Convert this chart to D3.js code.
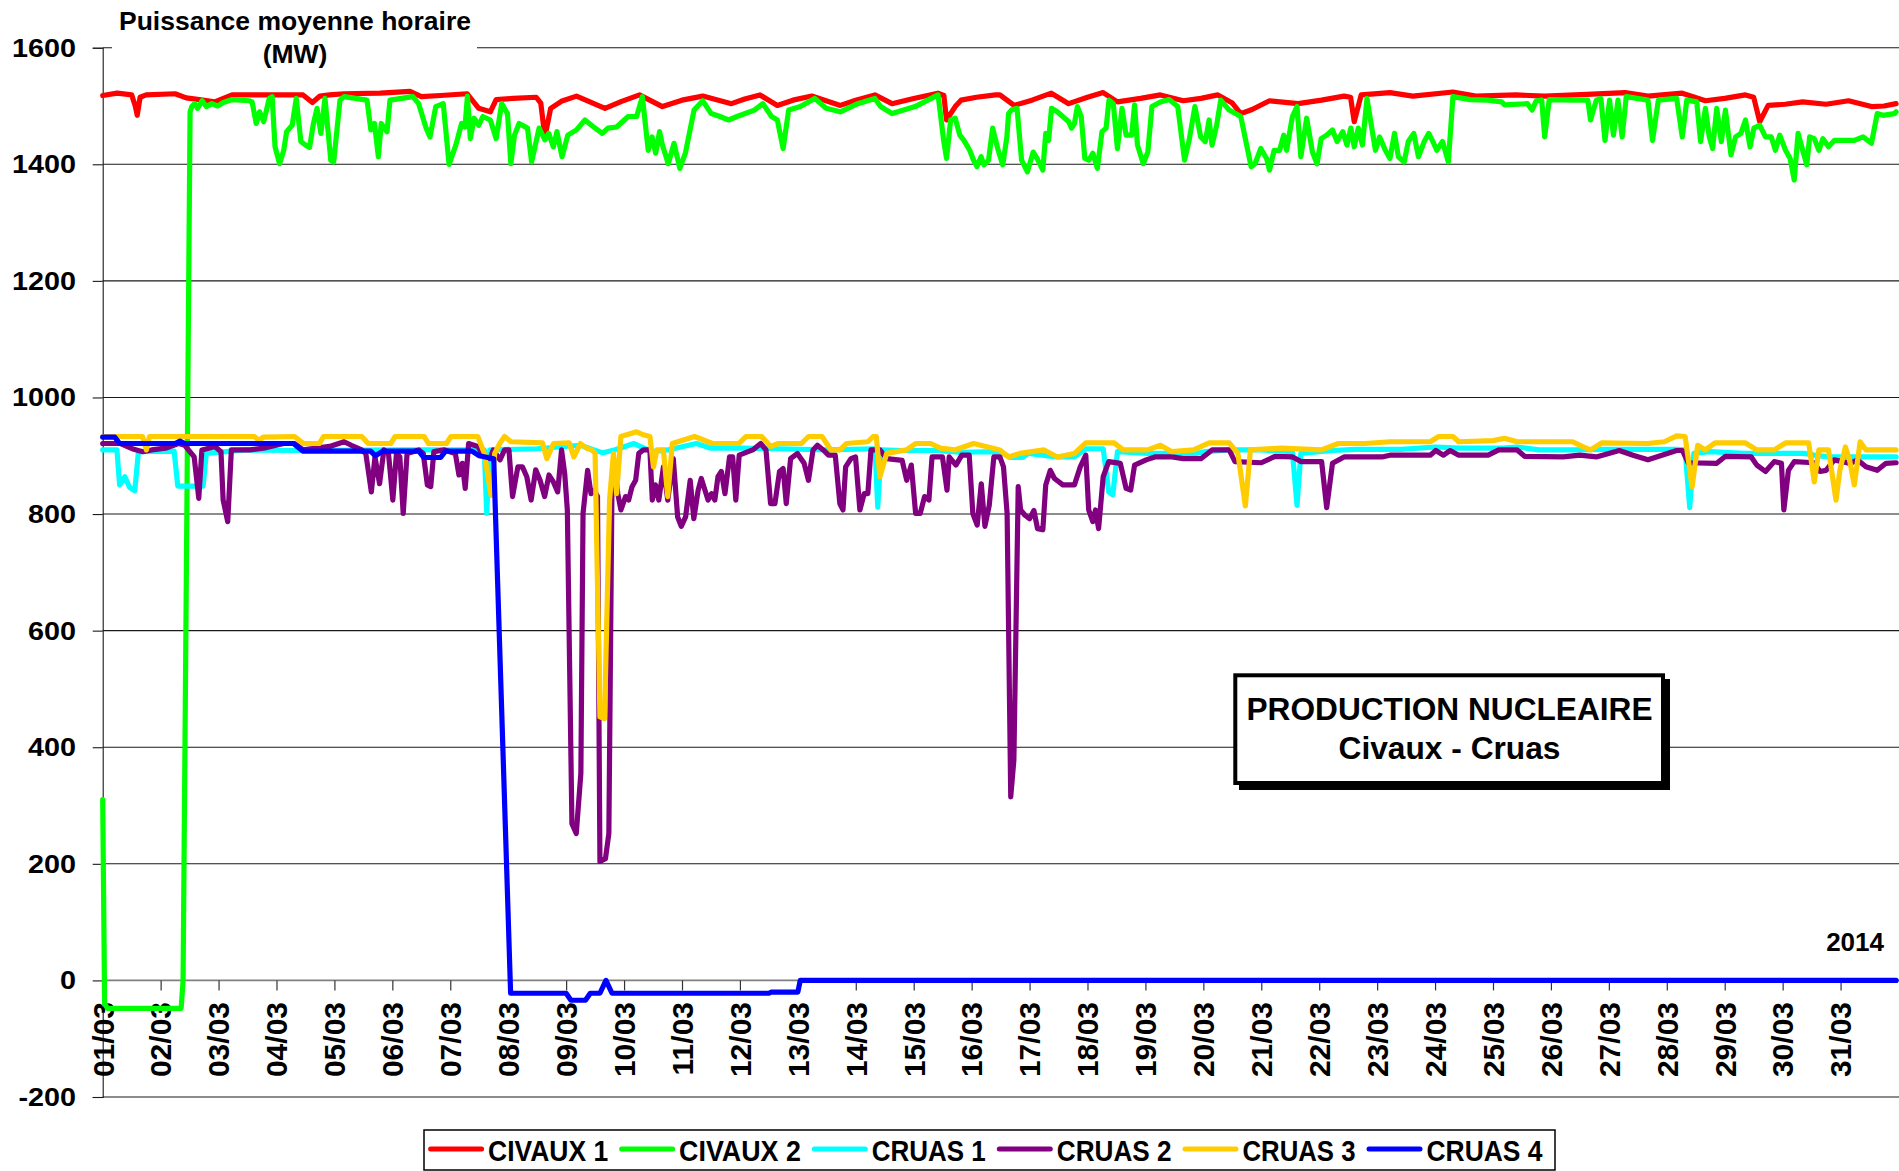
<!DOCTYPE html>
<html><head><meta charset="utf-8">
<script src="https://cdn.jsdelivr.net/npm/d3@7"></script>
<style>
body{margin:0;background:#fff}
svg{display:block}
text{font-family:"Liberation Sans",Arial,Helvetica,sans-serif;font-weight:bold;fill:#000}
</style>
</head><body>
<svg id="chart" width="1899" height="1171"></svg>
<script>
// ---------- DATA (hour offset from 01/03 00:00, MW) ----------
const seriesNames = ["CIVAUX 1","CIVAUX 2","CRUAS 1","CRUAS 2","CRUAS 3","CRUAS 4"];
const seriesColors = ["#FF0000","#00FF00","#00FFFF","#800080","#FFCC00","#0000FF"];
const dayLabels = ["01/03","02/03","03/03","04/03","05/03","06/03","07/03","08/03","09/03","10/03","11/03","12/03","13/03","14/03","15/03","16/03","17/03","18/03","19/03","20/03","21/03","22/03","23/03","24/03","25/03","26/03","27/03","28/03","29/03","30/03","31/03"];
const yTicks = [-200,0,200,400,600,800,1000,1200,1400,1600];

const civaux1 = [[0,1518],[6,1522],[12,1519],[13.5,1500],[14.3,1484],[15.5,1515],[18,1519],[30,1521],[34.6,1514],[40,1511],[46.4,1507],[53.6,1519],[70,1519],[83,1519],[86.9,1506],[90,1517],[94,1519],[100,1521],[115,1522],[127.3,1525],[132,1516],[140,1518],[151,1521],[155.8,1496],[160.6,1490],[163,1511],[170,1513],[179.6,1515],[181.5,1505],[183.2,1447],[185.6,1496],[190,1508],[196.3,1517],[208.1,1496],[215,1508],[222.4,1519],[231.9,1499],[240,1510],[248.6,1517],[260.5,1504],[266,1512],[272.3,1519],[279.5,1501],[286,1510],[293.8,1517],[305.6,1501],[312,1510],[319.9,1519],[327,1504],[336,1513],[346,1522],[348.5,1518],[349.6,1476],[353.2,1499],[355.6,1510],[362,1515],[369.9,1519],[371.7,1519],[377.6,1501],[385,1510],[393,1522],[400.2,1504],[408,1515],[414.5,1523],[420.4,1507],[430,1513],[438.2,1519],[447.7,1509],[455,1513],[462,1519],[468,1505],[471.5,1487],[476.2,1494],[483.4,1509],[495.3,1504],[505,1510],[514.3,1517],[517,1515],[518.5,1473],[521.4,1519],[533.3,1523],[542.8,1517],[559.4,1524],[568.9,1517],[585.5,1519],[597.4,1517],[615,1520],[630.7,1523],[640.2,1517],[654.4,1522],[664,1509],[672,1513],[680.6,1519],[684,1515],[686.5,1473],[690,1501],[697,1503],[704.3,1507],[714,1503],[723.3,1509],[732.8,1499],[738,1500],[743,1504]];

const civaux2 = [[0,310],[0.8,-40],[2,-48],[32.5,-48],[33.3,0],[36.2,1490],[36.9,1499],[38.1,1504],[39.3,1496],[41.2,1509],[42.9,1499],[45.2,1504],[47.6,1500],[50.0,1506],[53.6,1511],[60.7,1509],[61.9,1507],[63.6,1470],[65.0,1490],[66.7,1473],[69.0,1513],[70.2,1516],[71.4,1430],[73.3,1401],[75.0,1424],[76.2,1456],[78.5,1467],[80.2,1513],[82.1,1439],[84.0,1433],[85.7,1429],[87.3,1470],[88.8,1496],[90.4,1453],[92.1,1513],[94.5,1407],[95.7,1404],[98.3,1510],[100.0,1516],[109.5,1510],[111.1,1459],[112.6,1470],[114.2,1413],[115.4,1470],[117.8,1456],[119.0,1510],[128.5,1516],[130.9,1504],[134.0,1462],[135.6,1447],[138.0,1499],[141.1,1504],[143.5,1400],[146.3,1433],[148.7,1470],[150.1,1464],[151.1,1517],[152.3,1444],[153.9,1479],[155.8,1467],[157.5,1482],[160.6,1476],[163.0,1444],[165.3,1504],[167.7,1487],[169.1,1401],[170.6,1450],[172.5,1470],[176.0,1462],[177.7,1404],[180.8,1462],[183.2,1442],[184.8,1453],[186.7,1430],[188.2,1456],[190.3,1413],[192.7,1450],[196.3,1459],[199.8,1476],[203.4,1464],[207.0,1453],[209.3,1462],[212.9,1464],[217.7,1482],[221.2,1482],[223.6,1516],[226.0,1424],[227.6,1447],[229.1,1419],[230.7,1456],[231.9,1433],[234.3,1401],[236.7,1436],[239.1,1393],[241.4,1419],[245.0,1493],[248.6,1509],[252.1,1487],[255.7,1482],[259.3,1476],[262.8,1482],[270.0,1493],[273.5,1504],[277.1,1482],[279.5,1476],[281.9,1427],[284.2,1493],[289.0,1499],[295.0,1513],[299.7,1496],[305.6,1490],[312.8,1504],[319.9,1513],[322.3,1499],[327.0,1487],[336.6,1499],[346.1,1519],[348.4,1441],[349.6,1410],[351.3,1476],[353.2,1479],[355.1,1450],[356.8,1441],[359.2,1424],[360.8,1407],[362.2,1396],[363.9,1413],[365.1,1399],[367.0,1407],[368.7,1462],[371.0,1424],[372.9,1399],[374.6,1447],[375.3,1487],[376.5,1493],[378.8,1496],[380.7,1407],[383.1,1387],[385.5,1421],[387.1,1410],[389.5,1390],[390.7,1453],[391.9,1441],[393.1,1496],[395.5,1490],[400.2,1473],[401.4,1462],[402.6,1470],[403.8,1499],[405.4,1482],[406.9,1410],[408.5,1407],[410.2,1419],[412.1,1393],[414.0,1456],[415.7,1462],[416.9,1510],[418.7,1504],[420.4,1427],[422.3,1496],[424.0,1450],[426.3,1450],[427.5,1502],[428.7,1433],[431.1,1401],[433.0,1421],[434.7,1499],[438.2,1507],[441.8,1511],[445.4,1499],[448.2,1407],[450.1,1441],[452.5,1499],[454.9,1447],[456.8,1439],[458.4,1476],[459.6,1433],[461.5,1467],[463.2,1510],[466.7,1493],[471.5,1482],[475.8,1396],[477.4,1401],[479.8,1427],[482.2,1410],[483.4,1390],[485.3,1424],[487.6,1424],[489.3,1450],[490.5,1424],[492.9,1482],[494.8,1499],[496.4,1413],[498.8,1479],[501.2,1421],[503.1,1401],[504.8,1444],[507.1,1450],[509.5,1459],[511.4,1439],[513.8,1456],[515.5,1433],[517.1,1462],[518.5,1430],[520.2,1462],[521.9,1433],[523.8,1513],[527.3,1424],[529.0,1447],[531.4,1424],[533.3,1410],[535.2,1453],[536.8,1413],[539.2,1404],[540.9,1439],[543.2,1453],[545.1,1413],[547.5,1439],[549.4,1453],[551.1,1439],[552.7,1424],[555.1,1439],[557.5,1404],[559.4,1516],[566.5,1511],[573.7,1510],[579.6,1507],[580.8,1502],[590.3,1504],[592.2,1493],[593.9,1509],[596.2,1510],[597.4,1447],[599.3,1511],[609.3,1510],[615.3,1510],[616.4,1476],[618.8,1510],[620.7,1513],[622.4,1441],[624.3,1510],[625.9,1450],[627.8,1510],[629.5,1447],[631.2,1516],[640.2,1510],[642.1,1441],[644.5,1510],[652.1,1513],[654.4,1447],[656.3,1510],[660.4,1507],[662.0,1439],[664.0,1496],[665.6,1447],[667.0,1427],[668.7,1496],[670.6,1439],[672.3,1493],[674.6,1416],[676.5,1447],[678.7,1453],[680.6,1476],[682.5,1430],[684.1,1462],[686.5,1467],[688.9,1447],[691.3,1447],[693.0,1424],[694.8,1450],[697.2,1424],[699.1,1410],[700.8,1373],[702.4,1453],[704.3,1424],[706.0,1399],[707.2,1447],[709.1,1444],[711.0,1424],[712.7,1444],[715.0,1430],[717.4,1441],[725.7,1441],[729.3,1447],[732.8,1436],[735.2,1487],[737.6,1484],[742.3,1487],[743,1490]];

const cruas1 = [[0,910],[5.9,910],[7,850],[9.2,864],[11.1,846],[13.3,840],[14.8,907],[29.6,908],[31.1,848],[41.6,848],[42.9,904],[59.2,910],[80,909],[124,910],[158.1,910],[159.1,801],[160.4,910],[180,912],[197.9,918],[207.2,905],[212,910],[220.1,921],[227.5,907],[234,910],[246,921],[252,913],[265,913],[280,912],[300,910],[320,912],[321.1,812],[322.5,910],[331,909],[345,909],[355,906],[371.7,907],[376,897],[381,897],[383.5,904],[395,898],[402.6,898],[407.3,912],[414.5,912],[416.8,838],[418.5,833],[420.4,907],[433,904],[443,904],[447.7,900],[457,907],[466.7,910],[480,910],[492.9,907],[494.8,815],[496.4,904],[509.5,909],[519,911],[538,911],[552.3,915],[562,913],[580,913],[586,915],[595,910],[609,910],[621,911],[652,911],[655.6,910],[657.5,811],[659.2,904],[666,907],[680,904],[705,904],[709,901],[715,898],[743,898]];

const cruas2 = [[0,921],[7.4,921],[12.9,911],[16.6,907],[20.3,910],[26,913],[31.4,921],[34,918],[37.9,898],[39.8,827],[41.1,910],[44,913],[46.5,916],[49,907],[49.9,824],[51.8,787],[53.3,910],[61,910],[66.6,913],[75,921],[79.5,921],[83,910],[94,916],[100,924],[103,918],[107.3,910],[109,904],[111.3,838],[112.8,898],[114.7,852],[116.5,910],[118.4,904],[120.2,824],[121.7,904],[123.1,898],[124.5,801],[126.1,904],[131,910],[132.8,904],[134.5,850],[135.9,847],[137.2,907],[141.6,910],[146.1,904],[147.6,867],[149,887],[150.2,844],[151.6,921],[155.4,916],[158.1,898],[160.5,895],[161.8,910],[164.6,893],[166.5,910],[168.3,910],[169.8,830],[172,881],[173.9,881],[175.7,864],[177.5,824],[179.4,876],[181.2,858],[183.1,830],[184.9,867],[186.7,855],[188.5,838],[190.1,910],[191.4,870],[192.5,807],[194.4,269],[196.2,252],[198.1,355],[199,801],[200.9,875],[202.3,835],[203.6,841],[205,830],[206,204],[208.3,209],[209.7,252],[211,852],[212,887],[213.4,835],[214.7,807],[216.6,830],[217.9,824],[219.3,847],[220.8,858],[222.1,904],[224,910],[226.7,910],[227.7,824],[229,850],[230.4,824],[232.3,881],[234.1,824],[236.4,895],[238.2,795],[239.7,779],[241.5,795],[243.4,858],[244.9,792],[246.7,841],[248,861],[250.8,824],[252.2,835],[253.6,824],[254.9,864],[256.3,873],[257.8,835],[259.7,898],[261,898],[262.3,824],[263.7,901],[269.3,910],[272.6,921],[274.8,910],[276.7,818],[278.5,818],[280.4,873],[281.9,878],[283.2,818],[285,895],[287.8,904],[290.6,887],[292.4,858],[294.3,910],[296.1,918],[298.5,910],[300.7,901],[303.5,901],[305.4,818],[306.7,807],[307.8,881],[310,895],[311.9,898],[313.7,807],[315.5,835],[317,835],[318.3,910],[322,910],[324.8,895],[331.2,892],[333.1,858],[335,884],[336.8,801],[338.7,801],[340.5,830],[342.3,824],[343.6,898],[347.9,898],[349.8,841],[350.7,898],[353.5,884],[355.9,901],[359,901],[360.5,801],[362.3,781],[364,852],[365.5,779],[367.3,815],[369.2,898],[371.7,898],[373.2,881],[374.7,801],[376.2,315],[377.5,378],[379.3,847],[380.3,807],[382.1,798],[384,792],[385.8,806],[387.3,775],[389.5,773],[390.7,850],[392.6,875],[394.3,861],[397.8,850],[402.6,850],[405,881],[407.3,901],[408.5,807],[410.2,787],[411.3,807],[412.6,775],[414.5,864],[416.8,890],[421.6,887],[424,844],[425.9,841],[427.5,884],[432.3,893],[435.9,898],[443,898],[447.7,895],[455,895],[459.6,910],[466.7,910],[469.1,890],[480,888],[485.7,899],[493,898],[496.4,890],[505,890],[507.1,811],[509.5,887],[514.3,898],[530,898],[533.3,901],[550,901],[552.3,909],[555.5,901],[558.2,909],[561.8,901],[574,901],[578.4,910],[586,910],[589.1,899],[605,898],[612,901],[618.8,898],[628.3,909],[634,901],[640.2,893],[652.1,909],[654.5,909],[656.8,888],[668.7,887],[672.3,899],[683,898],[685.3,884],[688.9,873],[692.5,890],[695.5,887],[696.5,807],[698.4,875],[700.8,890],[709,888],[711.5,873],[714,875],[717.4,893],[724,887],[727,893],[730.5,881],[735.2,875],[738.8,887],[743,888]];

const cruas3 = [[0,933],[16.5,933],[18.1,910],[19.4,933],[62.9,933],[64.7,926],[66.5,932],[79.5,933],[83.2,921],[89.7,921],[91.5,933],[107.3,933],[110,921],[119.3,921],[121.1,933],[133.2,933],[135,921],[142.4,921],[144.3,933],[155.4,933],[158.1,904],[160.9,832],[162.4,904],[164.5,921],[166.5,933],[169.2,924],[182.2,922],[184,895],[186.8,921],[193.3,922],[195.2,898],[197.9,921],[200.5,913],[202.7,910],[204,904],[206,452],[207.9,449],[210,824],[211.6,904],[212.9,835],[214.7,933],[221.2,941],[224,936],[226.7,933],[228.2,881],[229.6,910],[232.3,910],[234.1,830],[236,921],[245.2,933],[252.6,921],[263.5,921],[266.5,933],[273,933],[276.7,916],[280,921],[289.5,921],[292.4,933],[298,933],[301.7,910],[305.4,910],[308.1,921],[317,924],[319.2,933],[320.5,933],[322,864],[324.8,904],[333,910],[336.8,921],[343,921],[347,913],[353,910],[360.8,921],[371.7,910],[375.3,898],[380,904],[390,910],[395.5,898],[402.6,904],[407.3,922],[419,922],[422.8,910],[433,910],[438.2,918],[443,907],[452,910],[458.4,922],[466.7,922],[470.3,904],[473.4,814],[475.5,910],[488,913],[505,910],[511.9,921],[523,921],[533.3,924],[550,924],[553.5,933],[559.4,933],[561.8,924],[576,926],[580.8,930],[586,924],[609,924],[612.9,916],[616.4,910],[621,922],[640,921],[647,924],[652.1,934],[655.6,933],[658.5,847],[660.8,918],[664,910],[668,922],[680.6,922],[685.3,910],[692.5,910],[697.2,922],[706.8,922],[709.1,855],[711,910],[715,910],[718.1,824],[719.7,875],[722,915],[723.7,893],[725.7,850],[728.1,924],[730.5,910],[743,910]];

const cruas4 = [[0,932],[5,932],[7,921],[30,921],[32,925],[34,921],[79,921],[83,908],[111,908],[113,900],[116,908],[131,908],[133,897],[140,897],[142,908],[153,908],[156,900],[162,895],[169,-22],[192,-22],[194,-34],[200,-34],[202,-22],[206,-22],[208.5,0],[211,-22],[276,-22],[277,-20],[288,-20],[289,0],[743,0]];

const allSeries = [civaux1, civaux2, cruas1, cruas2, cruas3, cruas4];

// ---------- CHART ----------
const W = 1899, H = 1171;
const svg = d3.select("#chart");
const x = d3.scaleLinear().domain([0, 744]).range([102.7, 1898.5]);
const y = d3.scaleLinear().domain([-200, 1600]).range([1097, 47.7]);

// gridlines
svg.append("g").selectAll("line").data(yTicks.filter(v => v !== 0)).join("line")
  .attr("x1", x(0)).attr("x2", W).attr("y1", d => y(d)).attr("y2", d => y(d))
  .attr("stroke", "#1a1a1a").attr("stroke-width", 1.1);

// y axis
const yAxis = svg.append("g").attr("transform", `translate(${x(0)},0)`)
  .call(d3.axisLeft(y).tickValues(yTicks).tickSize(10).tickFormat(""));
yAxis.select(".domain").attr("stroke", "#1a1a1a").attr("stroke-width", 1.1);
yAxis.selectAll(".tick line").attr("stroke", "#1a1a1a").attr("stroke-width", 1.1);

svg.append("g").selectAll("text").data(yTicks).join("text")
  .attr("transform", d => `translate(76,${y(d)}) scale(1.15,1)`)
  .attr("text-anchor", "end").attr("dy", "0.36em")
  .style("font-size", "25px").text(d => d);

// x axis at 0
const xTickVals = d3.range(0, 744, 24);
const xAxis = svg.append("g").attr("transform", `translate(0,${y(0)})`)
  .call(d3.axisBottom(x).tickValues(xTickVals).tickSize(10).tickFormat(""));
xAxis.select(".domain").attr("stroke", "#808080").attr("stroke-width", 1.6).attr("d", `M${x(0)},0H${W}`);
xAxis.selectAll(".tick line").attr("stroke", "#333").attr("stroke-width", 1.2);

svg.append("g").selectAll("text").data(xTickVals).join("text")
  .attr("transform", d => `translate(${x(d)},1002) rotate(-90)`)
  .attr("text-anchor", "end").attr("dy", "0.36em")
  .style("font-size", "30px").text((d, i) => dayLabels[i]);

// series lines
const line = d3.line().x(d => x(d[0])).y(d => y(d[1]));
svg.append("defs").append("clipPath").attr("id", "clip")
  .append("rect").attr("x", x(0) - 3).attr("y", 0).attr("width", W).attr("height", H);
const lg = svg.append("g").attr("clip-path", "url(#clip)");
allSeries.forEach((s, i) => {
  lg.append("path").datum(s).attr("d", line)
    .attr("fill", "none").attr("stroke", seriesColors[i])
    .attr("stroke-width", 5.2).attr("stroke-linejoin", "round").attr("stroke-linecap", "round");
});

// title
svg.append("rect").attr("x", 112).attr("y", 0).attr("width", 365).attr("height", 74).attr("fill", "#fff");
svg.append("text").attr("x", 295).attr("y", 30).attr("text-anchor", "middle")
  .style("font-size", "26.5px").text("Puissance moyenne horaire");
svg.append("text").attr("x", 295).attr("y", 63).attr("text-anchor", "middle")
  .style("font-size", "26.5px").text("(MW)");

// annotation box
svg.append("rect").attr("x", 1239).attr("y", 679).attr("width", 431).attr("height", 111).attr("fill", "#000");
svg.append("rect").attr("x", 1235.3).attr("y", 675.3).attr("width", 427.7).attr("height", 107.7)
  .attr("fill", "#fff").attr("stroke", "#000").attr("stroke-width", 4);
svg.append("text").attr("x", 1449.5).attr("y", 720).attr("text-anchor", "middle")
  .style("font-size", "30.5px").attr("textLength", 406).attr("lengthAdjust", "spacingAndGlyphs")
  .text("PRODUCTION NUCLEAIRE");
svg.append("text").attr("x", 1449.5).attr("y", 759).attr("text-anchor", "middle")
  .style("font-size", "30.5px").attr("textLength", 222).attr("lengthAdjust", "spacingAndGlyphs")
  .text("Civaux - Cruas");

// year
svg.append("text").attr("x", 1884).attr("y", 951).attr("text-anchor", "end")
  .style("font-size", "26px").text("2014");

// legend
svg.append("rect").attr("x", 424).attr("y", 1130).attr("width", 1131).attr("height", 40)
  .attr("fill", "#fff").attr("stroke", "#000").attr("stroke-width", 1.5);
const legendTextW = [120, 121.7, 114, 114.7, 113, 116];
let lx = 430.6;
seriesNames.forEach((n, i) => {
  svg.append("line").attr("x1", lx).attr("x2", lx + 51).attr("y1", 1149).attr("y2", 1149)
    .attr("stroke", seriesColors[i]).attr("stroke-width", 5).attr("stroke-linecap", "round");
  svg.append("text").attr("x", lx + 57.5).attr("y", 1160.5)
    .style("font-size", "29px").attr("textLength", legendTextW[i]).attr("lengthAdjust", "spacingAndGlyphs")
    .text(n);
  lx += 57.5 + legendTextW[i] + 13.5;
});
</script>
</body></html>
